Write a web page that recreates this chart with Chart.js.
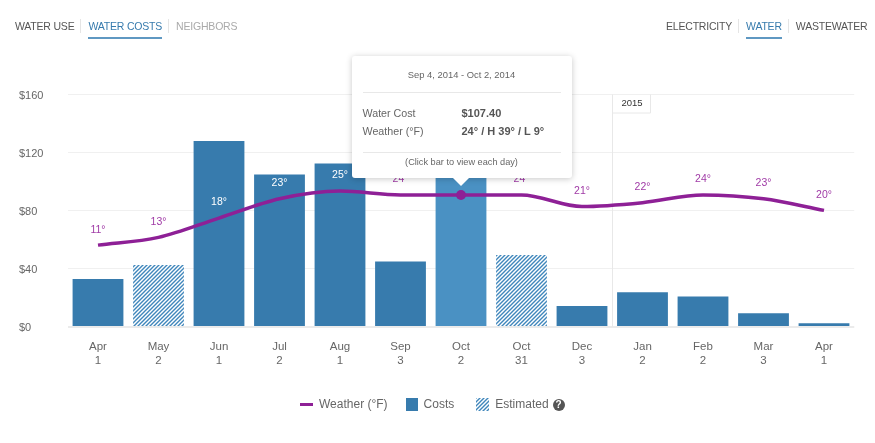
<!DOCTYPE html>
<html lang="en">

<head>
    <meta charset="UTF-8" />
    <title>Water Costs</title>
    <script src="https://cdn.jsdelivr.net/npm/chart.js"></script>
    <style>
        body {
            margin: 0;
            background: #fff;
            font-family: "Liberation Sans", sans-serif;
            color: #666;
        }

        #wrap {
            position: relative;
            width: 875px;
            height: 443px;
            overflow: hidden;
        }

        canvas {
            position: absolute;
            left: 0;
            top: 0;
        }

        .nav {
            position: absolute;
            top: 19px;
            display: flex;
            font-size: 10.5px;
            letter-spacing: -0.2px;
            line-height: 14px;
            color: #555;
        }

        .nav span {
            padding-bottom: 4px;
            border-bottom: 2px solid transparent;
            white-space: nowrap;
        }

        .nav i {
            width: 1px;
            height: 14px;
            background: #e5e5e5;
            margin: 0 7px 0 6px;
        }

        .nav .active {
            color: #377bad;
            border-bottom-color: #5f98c2;
        }

        .nav .muted {
            color: #aaa;
        }

        #tip {
            position: absolute;
            width: 220px;
            height: 122px;
            box-sizing: border-box;
            background: #fff;
            border-radius: 3px;
            box-shadow: 0 1px 6px rgba(0, 0, 0, .22);
            font-size: 10.7px;
            color: #666;
        }

        #tip div {
            position: absolute;
            white-space: nowrap;
        }

        #tip .rule {
            left: 11px;
            width: 198px;
            height: 1px;
            background: #e8e8e8;
        }

        #tip b {
            position: absolute;
            left: 99px;
            font-size: 11px;
            color: #555;
        }

        #tip .arrow {
            left: 101px;
            top: 122px;
            width: 0;
            height: 0;
            border-left: 8px solid transparent;
            border-right: 8px solid transparent;
            border-top: 8px solid #fff;
        }

        #legend {
            position: absolute;
            top: 397px;
            left: 300px;
            display: flex;
            align-items: center;
            font-size: 12px;
            line-height: 15px;
            color: #666;
            white-space: nowrap;
        }

        #legend .swatch {
            display: inline-block;
            width: 12px;
            height: 13px;
            margin-top: -1px;
            margin-right: 6px;
        }

        #legend .stroke {
            display: inline-block;
            width: 13px;
            height: 3px;
            margin-right: 6px;
            background: #8e2096;
        }

        #legend .help {
            display: inline-block;
            width: 12px;
            height: 12px;
            margin-left: 4px;
            border-radius: 50%;
            background: #555;
            color: #fff;
            font-size: 10px;
            font-weight: bold;
            line-height: 12px;
            text-align: center;
        }
    </style>
</head>

<body>
    <div id="wrap">
        <canvas id="costChart" width="875" height="443"></canvas>

        <div class="nav" style="left:15px">
            <span>WATER USE</span><i></i><span class="active">WATER COSTS</span><i></i><span class="muted">NEIGHBORS</span>
        </div>
        <div class="nav" style="left:666px">
            <span>ELECTRICITY</span><i></i><span class="active">WATER</span><i></i><span>WASTEWATER</span>
        </div>

        <div id="tip">
            <div style="left:0;width:220px;text-align:center;top:13px;font-size:9.4px">Sep 4, 2014 - Oct 2, 2014</div>
            <div class="rule" style="top:36px"></div>
            <div style="left:11px;top:51px">Water Cost<b>$107.40</b></div>
            <div style="left:11px;top:69px">Weather (°F)<b>24° / H 39° / L 9°</b></div>
            <div class="rule" style="top:96px"></div>
            <div style="left:0;width:220px;text-align:center;top:101px;font-size:9.2px">(Click bar to view each day)</div>
            <div class="arrow"></div>
        </div>

        <div id="legend">
            <span class="stroke"></span>Weather (°F)
            <span class="swatch" style="background:#377bad;margin-left:18px"></span>Costs
            <span class="swatch" id="hatchSwatch" style="margin-left:22px;width:13px"></span>Estimated<span class="help">?</span>
        </div>
    </div>

    <script>
        const months = ['Apr', 'May', 'Jun', 'Jul', 'Aug', 'Sep', 'Oct', 'Oct', 'Dec', 'Jan', 'Feb', 'Mar', 'Apr'];
        const readDays = ['1', '2', '1', '2', '1', '3', '2', '31', '3', '2', '2', '3', '1'];
        const costs = [33, 42.7, 128, 105, 112.5, 45, 107.4, 49.5, 14.5, 24, 21, 9.5, 2.5];
        const temps = [11, 13, 18, 23, 25, 24, 24, 24, 21, 22, 24, 23, 20];
        const estimated = [1, 7];
        const selected = 6;
        const costTicks = [0, 40, 80, 120, 160];

        const BLUE = '#377bad';
        const BLUE_HI = '#4a91c3';
        const PURPLE = '#8e2096';

        // diagonal stripes for estimated bills
        function makeHatch() {
            const c = document.createElement('canvas');
            c.width = 4;
            c.height = 4;
            const g = c.getContext('2d');
            g.fillStyle = '#fff';
            g.fillRect(0, 0, 4, 4);
            g.strokeStyle = '#3f86bb';
            g.lineWidth = 1.4;
            g.beginPath();
            g.moveTo(-1, 5); g.lineTo(5, -1);
            g.moveTo(-1, 1); g.lineTo(1, -1);
            g.moveTo(3, 5); g.lineTo(5, 3);
            g.stroke();
            return c;
        }
        const hatchTile = makeHatch();
        const ctx = document.getElementById('costChart').getContext('2d');
        const hatch = ctx.createPattern(hatchTile, 'repeat');
        document.getElementById('hatchSwatch').style.background = `url(${hatchTile.toDataURL()})`;

        // year divider between Dec and Jan
        const yearMarker = {
            id: 'yearMarker',
            beforeDatasetsDraw(chart) {
                const { ctx, chartArea, scales } = chart;
                const x = Math.round(scales.x.getPixelForValue(8.5)) + 0.5;
                ctx.save();
                ctx.strokeStyle = '#e8e8e8';
                ctx.lineWidth = 1;
                ctx.beginPath();
                ctx.moveTo(x, chartArea.top);
                ctx.lineTo(x, chartArea.bottom);
                ctx.moveTo(x, chartArea.top + 18.5);
                ctx.lineTo(x + 38, chartArea.top + 18.5);
                ctx.lineTo(x + 38, chartArea.top);
                ctx.stroke();
                ctx.fillStyle = '#333';
                ctx.font = '9.5px "Liberation Sans"';
                ctx.textBaseline = 'middle';
                ctx.fillText('2015', x + 9, chartArea.top + 9);
                ctx.restore();
            },
        };

        // temperature labels above the line, the selected one sits under the tooltip
        const tempLabels = {
            id: 'tempLabels',
            afterDatasetsDraw(chart) {
                const { ctx } = chart;
                const linePoints = chart.getDatasetMeta(1).data;
                const barPoints = chart.getDatasetMeta(0).data;
                ctx.save();
                ctx.font = '10.5px "Liberation Sans"';
                ctx.textAlign = 'center';
                ctx.textBaseline = 'middle';
                temps.forEach((t, i) => {
                    if (i === selected) return;
                    const y = linePoints[i].y - 15.5;
                    const overBar = !estimated.includes(i) && barPoints[i].y < y;
                    ctx.fillStyle = overBar ? '#fff' : '#a03aa6';
                    ctx.fillText(`${t}°`, linePoints[i].x, y);
                });
                ctx.restore();
            },
            afterRender(chart) {
                const tip = document.getElementById('tip');
                tip.style.left = `${chart.scales.x.getPixelForValue(selected) - 109.5}px`;
                tip.style.top = '56px';
            },
        };

        new Chart(ctx, {
            type: 'bar',
            data: {
                labels: months.map((m, i) => [m, readDays[i]]),
                datasets: [
                    {
                        type: 'bar',
                        data: costs,
                        order: 2,
                        barPercentage: 0.84,
                        categoryPercentage: 1,
                        backgroundColor: costs.map((_, i) =>
                            estimated.includes(i) ? hatch : i === selected ? BLUE_HI : BLUE),
                        yAxisID: 'y',
                    },
                    {
                        type: 'line',
                        data: temps,
                        order: 1,
                        borderColor: PURPLE,
                        borderWidth: 3.5,
                        cubicInterpolationMode: 'monotone',
                        pointRadius: temps.map((_, i) => (i === selected ? 5 : 0)),
                        pointBackgroundColor: PURPLE,
                        pointBorderWidth: 0,
                        yAxisID: 'temp',
                    },
                ],
            },
            plugins: [yearMarker, tempLabels],
            options: {
                responsive: false,
                animation: false,
                layout: { padding: { left: 19, right: 20.75, top: 94.5, bottom: 0 } },
                plugins: { legend: { display: false }, tooltip: { enabled: false } },
                scales: {
                    x: {
                        afterFit(axis) { axis.height = 116; },
                        grid: { display: false, drawTicks: false },
                        border: { display: false },
                        ticks: {
                            color: '#666',
                            padding: 13,
                            maxRotation: 0,
                            autoSkip: false,
                            font: { family: '"Liberation Sans"', size: 11.5, lineHeight: 1.22 },
                        },
                    },
                    y: {
                        min: 0,
                        max: 160,
                        afterFit(axis) { axis.width = 48.75; },
                        afterBuildTicks(axis) { axis.ticks = costTicks.map(value => ({ value })); },
                        border: { display: false },
                        grid: {
                            drawTicks: false,
                            color: c => (c.tick.value === 0 ? '#ebebeb' : '#f0f0f0'),
                            lineWidth: c => (c.tick.value === 0 ? 2 : 1),
                        },
                        ticks: {
                            color: '#666',
                            crossAlign: 'far',
                            labelOffset: 1,
                            callback: v => `$${v}`,
                            font: { family: '"Liberation Sans"', size: 11 },
                        },
                    },
                    temp: {
                        display: false,
                        min: -10.2,
                        max: 50,
                    },
                },
            },
        });
    </script>
</body>

</html>
